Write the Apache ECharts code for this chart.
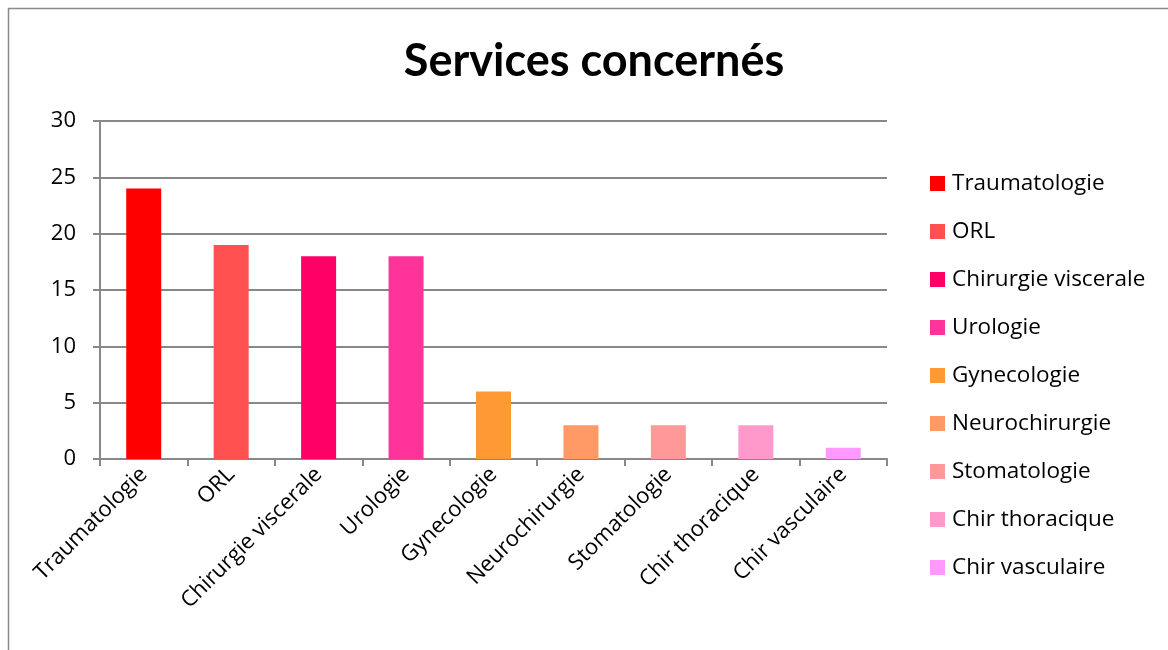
<!DOCTYPE html>
<html>
<head>
<meta charset="utf-8">
<script src="https://cdn.jsdelivr.net/npm/echarts@6/dist/echarts.min.js"></script>
<style>
  html, body { margin: 0; padding: 0; background: #fff; }
  #chart { width: 1168px; height: 650px; }
</style>
</head>
<body>
<div id="chart"></div>
<script>
// Number of cases per surgical department
const categories = ['Traumatologie', 'ORL', 'Chirurgie viscerale', 'Urologie', 'Gynecologie',
  'Neurochirurgie', 'Stomatologie', 'Chir thoracique', 'Chir vasculaire'];
const values = [24, 19, 18, 18, 6, 3, 3, 3, 1];
const colors = ['#FF0000', '#FF5050', '#FF0066', '#FF3399', '#FF9933',
  '#FF9966', '#FF9999', '#FF99CC', '#FF99FF'];
const yTicks = { min: 0, max: 30, interval: 5 };

const FONT = '"Open Sans", sans-serif';
const TITLE_FONT = 'Lato, sans-serif';
const GRAY = '#888888';

// One series per department so each gets its own legend entry; stacking keeps bars centred.
const series = categories.map((name, i) => ({
  name: name,
  type: 'bar',
  stack: 'all',
  barWidth: 35,
  itemStyle: { color: colors[i] },
  data: categories.map((_, j) => (j === i ? values[i] : null))
}));

const chart = echarts.init(document.getElementById('chart'), null, { renderer: 'canvas' });
chart.setOption({
  animation: false,
  backgroundColor: '#fff',
  color: colors,
  title: {
    text: 'Services concernés',
    left: 589, top: 34, textAlign: 'center',
    textStyle: { fontFamily: TITLE_FONT, fontWeight: 'bold', fontSize: 45, color: '#000' }
  },
  legend: {
    orient: 'vertical',
    left: 930, top: 172, padding: 0,
    itemWidth: 15, itemHeight: 15, itemGap: 25,
    icon: 'rect',
    textStyle: { fontFamily: FONT, fontSize: 22.5, lineHeight: 23, color: '#000', padding: [0, 0, 0, 2] },
    data: categories
  },
  grid: { left: 100, right: 281, top: 121, bottom: 191, containLabel: false },
  xAxis: {
    type: 'category',
    data: categories,
    boundaryGap: true,
    axisLine: { lineStyle: { color: GRAY, width: 2 } },
    axisTick: { show: true, length: 7, alignWithLabel: false, lineStyle: { color: GRAY, width: 2 } },
    axisLabel: {
      rotate: 45, interval: 0, margin: 12,
      fontFamily: FONT, fontSize: 22, color: '#000'
    }
  },
  yAxis: {
    type: 'value',
    min: yTicks.min, max: yTicks.max, interval: yTicks.interval,
    axisLine: { show: true, lineStyle: { color: GRAY, width: 2 } },
    axisTick: { show: true, length: 7, lineStyle: { color: GRAY, width: 2 } },
    axisLabel: { margin: 24, fontFamily: FONT, fontSize: 22, color: '#000' },
    splitLine: { lineStyle: { color: GRAY, width: 2 } }
  },
  graphic: [{
    type: 'rect',
    shape: { x: 8.5, y: 8.5, width: 1200, height: 700 },
    style: { fill: 'none', stroke: '#8a8a8a', lineWidth: 1.5 },
    silent: true
  }],
  series: series
});
</script>
</body>
</html>
